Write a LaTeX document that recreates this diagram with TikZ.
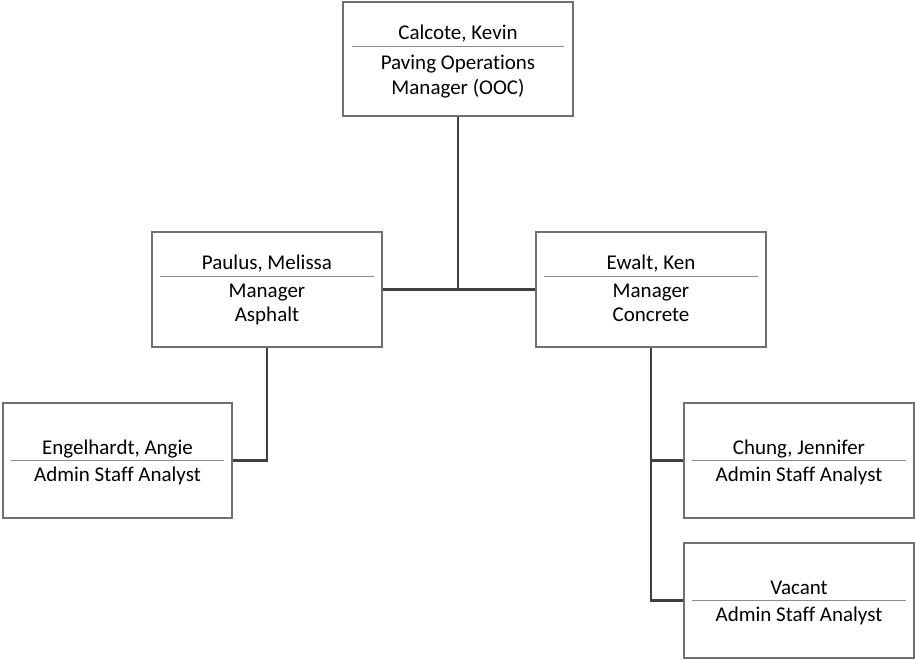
\documentclass[tikz,border=0pt]{standalone}
\usepackage{fontspec}
\setmainfont[Ligatures=NoCommon]{Carlito}
\usetikzlibrary{calc}
\definecolor{boxgray}{HTML}{707070}
\definecolor{sepgray}{HTML}{8C8C8C}
\definecolor{conngray}{HTML}{404040}
\tikzset{
  orgbox/.style={draw=boxgray, line width=1.1pt, fill=white, rectangle,
    minimum width=230pt, minimum height=115pt, inner sep=0pt},
  lbl/.style={font=\fontsize{21}{25}\selectfont, anchor=base, inner sep=0pt, text=black},
  sep/.style={draw=sepgray, line width=0.9pt},
  conn/.style={draw=conngray, line width=2.4pt}
}
\begin{document}
\begin{tikzpicture}[x=1pt,y=-1pt]
\useasboundingbox (0,0) rectangle (915,659);
% boxes
\node[orgbox, minimum height=114pt] (top) at (458,59) {};
\node[orgbox] (paulus) at (267,289.5) {};
\node[orgbox] (ewalt) at (651,289.5) {};
\node[orgbox, minimum width=229pt] (engel) at (117.5,460.5) {};
\node[orgbox] (chung) at (799,460.5) {};
\node[orgbox] (vacant) at (799,600.5) {};
% connectors
\coordinate (j1) at (top.south |- paulus.east);
\draw[conn] (top.south) -- (j1);
\draw[conn] (paulus.east) -- (ewalt.west);
\draw[conn] (paulus.south) |- (engel.east);
\draw[conn] (ewalt.south) |- (chung.west);
\draw[conn] (ewalt.south) |- (vacant.west);
% top box text
\node[lbl] (topname) at ($(top.north)+(0,38)$) {Calcote, Kevin};
\draw[sep] ($(top.north west)+(10,45)$) -- ($(top.north east)+(-10,45)$);
\node[lbl] (toptitle1) at ($(top.north)+(0,68)$) {Paving Operations};
\node[lbl] (toptitle2) at ($(top.north)+(0,93)$) {Manager (OOC)};
% Paulus
\node[lbl] (pname) at ($(paulus.north)+(0,38)$) {Paulus, Melissa};
\draw[sep] ($(paulus.north west)+(9,45)$) -- ($(paulus.north east)+(-9,45)$);
\node[lbl] (ptitle1) at ($(paulus.north)+(0,66)$) {Manager};
\node[lbl] (ptitle2) at ($(paulus.north)+(0,90)$) {Asphalt};
% Ewalt
\node[lbl] (ename) at ($(ewalt.north)+(0,38)$) {Ewalt, Ken};
\draw[sep] ($(ewalt.north west)+(9,45)$) -- ($(ewalt.north east)+(-9,45)$);
\node[lbl] (etitle1) at ($(ewalt.north)+(0,66)$) {Manager};
\node[lbl] (etitle2) at ($(ewalt.north)+(0,90)$) {Concrete};
% Engelhardt
\node[lbl] (gname) at ($(engel.north)+(0,52)$) {Engelhardt, Angie};
\draw[sep] ($(engel.north west)+(9,58)$) -- ($(engel.north east)+(-9,58)$);
\node[lbl] (gtitle) at ($(engel.north)+(0,79)$) {Admin Staff Analyst};
% Chung
\node[lbl] (cname) at ($(chung.north)+(0,52)$) {Chung, Jennifer};
\draw[sep] ($(chung.north west)+(9,58)$) -- ($(chung.north east)+(-9,58)$);
\node[lbl] (ctitle) at ($(chung.north)+(0,79)$) {Admin Staff Analyst};
% Vacant
\node[lbl] (vname) at ($(vacant.north)+(0,52)$) {Vacant};
\draw[sep] ($(vacant.north west)+(9,58)$) -- ($(vacant.north east)+(-9,58)$);
\node[lbl] (vtitle) at ($(vacant.north)+(0,79)$) {Admin Staff Analyst};
\end{tikzpicture}
\end{document}
